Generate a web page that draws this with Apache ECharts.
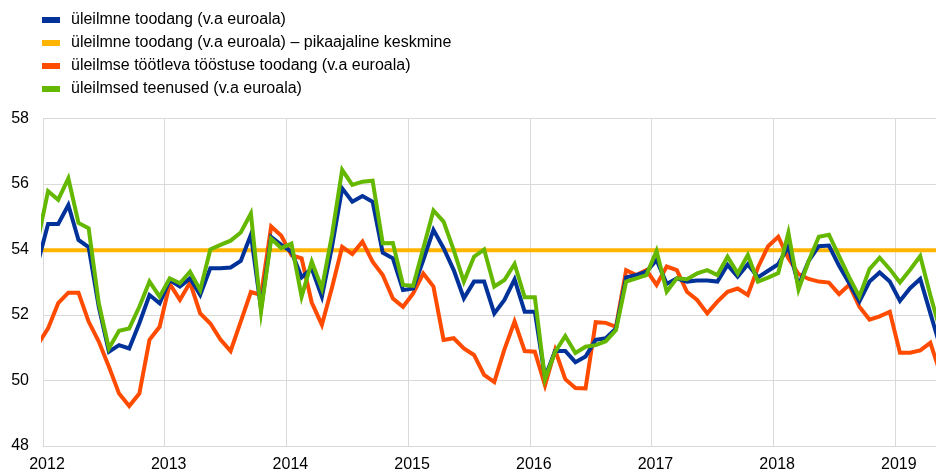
<!DOCTYPE html>
<html>
<head>
<meta charset="utf-8">
<title>PMI</title>
<script src="https://cdn.jsdelivr.net/npm/echarts@6/dist/echarts.min.js"></script>
<style>
  html, body { margin: 0; padding: 0; background: #fff; }
  #chart { width: 936px; height: 473px; }
</style>
</head>
<body>
<div id="chart"></div>
<script>
// monthly values, Dec 2011 .. May 2019 (first and last are clipped at the edges)
var startYear = 2011, startMonth = 11;
var names = [
    'üleilmne toodang (v.a euroala)',
    'üleilmne toodang (v.a euroala) – pikaajaline keskmine',
    'üleilmse töötleva tööstuse toodang (v.a euroala)',
    'üleilmsed teenused (v.a euroala)'
];
var composite = [53.6,
    54.78, 54.78, 55.36, 54.29, 54.07, 52.25, 50.88, 51.08, 50.98, 51.75, 52.61, 52.36,
    53.07, 52.87, 53.12, 52.61, 53.43, 53.43, 53.45, 53.65, 54.45, 52.2, 54.38, 54.14,
    53.93, 53.15, 53.42, 52.56, 54.09, 55.87, 55.46, 55.63, 55.46, 53.9, 53.73, 52.76,
    52.81, 53.68, 54.6, 54.04, 53.37, 52.51, 53.02, 53.02, 52.05, 52.46, 53.09, 52.1,
    52.1, 50.1, 50.9, 50.9, 50.56, 50.73, 51.24, 51.29, 51.59, 53.15, 53.22, 53.32,
    53.68, 52.95, 53.12, 53.02, 53.05, 53.05, 53.02, 53.53, 53.17, 53.55, 53.15, 53.35,
    53.55, 54.1, 52.9, 53.65, 54.1, 54.12, 53.5, 52.97, 52.41, 53.02, 53.3, 53.02,
    52.43, 52.82, 53.1, 52.05, 51.0];
var longTermMean = 53.98;
var manufacturing = [51.1,
    51.59, 52.36, 52.68, 52.68, 51.8, 51.19, 50.42, 49.6, 49.22, 49.6, 51.24, 51.64,
    52.95, 52.46, 52.99, 52.05, 51.74, 51.25, 50.9, 51.8, 52.7, 52.61, 54.7, 54.42,
    53.83, 53.73, 52.38, 51.7, 52.84, 54.08, 53.86, 54.24, 53.63, 53.22, 52.5, 52.25,
    52.66, 53.27, 52.87, 51.24, 51.29, 50.98, 50.78, 50.17, 49.95, 50.95, 51.8, 50.9,
    50.88, 49.85, 50.93, 50.04, 49.77, 49.76, 51.78, 51.76, 51.64, 53.37, 53.22, 53.37,
    52.92, 53.48, 53.37, 52.71, 52.46, 52.05, 52.41, 52.71, 52.81, 52.61, 53.45, 54.1,
    54.39, 53.73, 53.25, 53.1, 53.02, 52.99, 52.64, 52.92, 52.25, 51.86, 51.96, 52.1,
    50.85, 50.85, 50.92, 51.15, 50.2];
var services = [54.3,
    55.78, 55.52, 56.17, 54.81, 54.65, 52.36, 50.98, 51.52, 51.59, 52.25, 53.02, 52.56,
    53.12, 52.97, 53.32, 52.76, 54.0, 54.14, 54.27, 54.52, 55.1, 52.1, 54.33, 54.04,
    54.18, 52.56, 53.63, 52.81, 54.45, 56.43, 55.97, 56.07, 56.1, 54.19, 54.2, 52.92,
    52.89, 54.04, 55.19, 54.85, 53.98, 53.02, 53.78, 54.0, 52.87, 53.07, 53.56, 52.54,
    52.54, 50.04, 50.87, 51.36, 50.84, 51.03, 51.08, 51.2, 51.54, 53.02, 53.12, 53.22,
    53.96, 52.71, 53.12, 53.09, 53.27, 53.37, 53.22, 53.78, 53.27, 53.83, 53.02, 53.14,
    53.28, 54.51, 52.78, 53.65, 54.39, 54.45, 53.8, 53.15, 52.56, 53.4, 53.75, 53.4,
    52.99, 53.38, 53.8, 52.6, 51.5];
var colors = ['#003299', '#FFB400', '#FF4B00', '#65B800'];

// place each month in the middle of its band on a year scale
function toPairs(arr) {
    var out = [];
    for (var i = 0; i < arr.length; i++) {
        out.push([startYear + (startMonth + i + 0.5) / 12, arr[i]]);
    }
    return out;
}
var meanLine = composite.map(function () { return longTermMean; });

var chart = echarts.init(document.getElementById('chart'));
var font = 'Liberation Sans, Arial, sans-serif';

function lineSeries(name, arr, color, z) {
    return {
        name: name,
        type: 'line',
        data: toPairs(arr),
        showSymbol: false,
        symbol: 'none',
        z: z,
        lineStyle: { color: color, width: 4, join: 'miter' },
        itemStyle: { color: color },
        emphasis: { disabled: true },
        animation: false
    };
}

chart.setOption({
    animation: false,
    color: colors,
    grid: { left: 43, right: 0, top: 118.5, bottom: 26.5 },
    legend: {
        orient: 'vertical',
        left: 37,
        top: 7,
        icon: 'rect',
        itemWidth: 18,
        itemHeight: 6,
        itemGap: 7,
        textStyle: { fontFamily: font, fontSize: 16, color: '#000', padding: [0, 0, 0, 6] },
        data: names
    },
    xAxis: {
        type: 'value',
        min: 2012,
        max: 2019.338,
        interval: 1,
        axisLine: { show: true, lineStyle: { color: '#d9d9d9', width: 1 } },
        axisTick: { show: false },
        splitLine: { show: true, lineStyle: { color: '#d9d9d9', width: 1 } },
        axisLabel: {
            fontFamily: font, fontSize: 16, color: '#000', margin: 11,
            padding: [0, 0, 0, 8],
            showMaxLabel: false,
            formatter: function (v) { return Math.abs(v - Math.round(v)) < 1e-6 ? String(Math.round(v)) : ''; }
        }
    },
    yAxis: {
        type: 'value',
        min: 48,
        max: 58,
        interval: 2,
        axisLine: { show: false },
        axisTick: { show: false },
        splitLine: { show: true, lineStyle: { color: '#d9d9d9', width: 1 } },
        axisLabel: { fontFamily: font, fontSize: 16, color: '#000', margin: 14 }
    },
    series: [
        lineSeries(names[1], meanLine, colors[1], 1),
        lineSeries(names[2], manufacturing, colors[2], 2),
        lineSeries(names[0], composite, colors[0], 3),
        lineSeries(names[3], services, colors[3], 4)
    ]
});
</script>
</body>
</html>
